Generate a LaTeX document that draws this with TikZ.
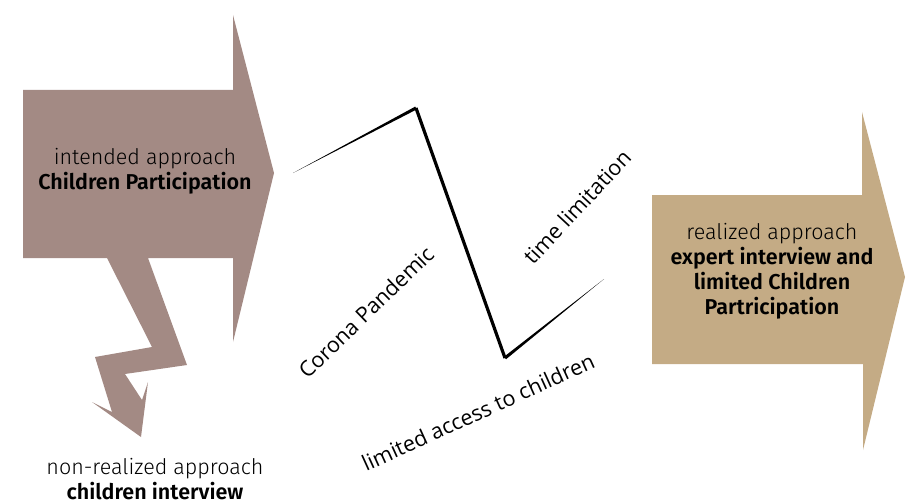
\documentclass[tikz,border=0pt]{standalone}
\usepackage{fontspec}
\usepackage{tikz}
\usetikzlibrary{calc}
\newfontfamily\boxfont{Fira Sans}[UprightFont=* Light,BoldFont=* SemiBold]
\newfontfamily\labelfont{Open Sans}
\definecolor{mauve}{RGB}{163,138,132}
\definecolor{sand}{RGB}{196,171,133}

\begin{document}
\begin{tikzpicture}[x=1pt,y=-1pt,
    boxtext/.style={align=center,font=\boxfont\fontsize{21.5}{25}\selectfont,text=black},
    slanted/.style={font=\labelfont\fontsize{21.5}{24}\selectfont,text=black}]
      \useasboundingbox (0,0) rectangle (913,500);
      % left arrow with lightning tail
      \fill[mauve] (23,90)--(233,90)--(233,15)--(274,173)--(233,342)--(233,258)
        --(148,258)--(187,365)--(125,374)--(142,400)--(148,382)--(141,437)
        --(92,402)--(112,412)--(95,357)--(152,347)--(107,258)--(23,258)--cycle;
      % right arrow
      \fill[sand] (652,195)--(862,195)--(862,112)--(905,277)--(863,450)--(863,364)--(652,364)--cycle;
      \node[boxtext] (intended) at (145,171) {intended approach\\\textbf{Children Participation}};
      \node[boxtext] (nonreal) at (155,479) {non-realized approach\\\textbf{children interview}};
      \node[boxtext] (real) at (772,271) {realized approach\\\textbf{expert interview and}\\\textbf{limited Children}\\\textbf{Partricipation}};
      % zigzag
      \coordinate (z0) at (293,173);
      \coordinate (z1) at (416,108);
      \coordinate (z2) at (505,358);
      \coordinate (z3) at (604,279);
      \fill (z0)--($(z1)!1.6pt!90:(z0)$)--($(z1)!1.6pt!-90:(z0)$)--cycle;
      \fill (z3)--($(z2)!1.6pt!90:(z3)$)--($(z2)!1.6pt!-90:(z3)$)--cycle;
      \draw[line width=3.2pt,line join=round] (z1)--(z2);
      \node[slanted,rotate=44] (corona) at (366,312) {Corona Pandemic};
      \node[slanted,rotate=47] (time) at (577,207) {time limitation};
      \node[slanted,rotate=24.5] (access) at (478,412) {limited access to children};
    \end{tikzpicture}
\end{document}
